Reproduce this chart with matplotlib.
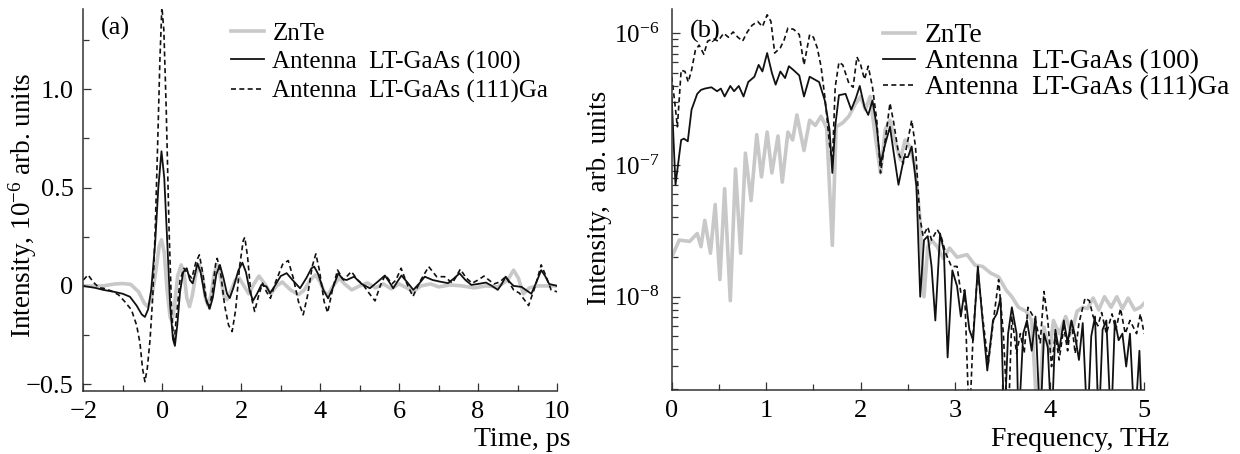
import numpy as np
import matplotlib
matplotlib.use("Agg")
import matplotlib.pyplot as plt
from matplotlib.ticker import MultipleLocator, LogLocator, NullFormatter

plt.rcParams['font.family'] = ['Liberation Serif', 'DejaVu Serif']
plt.rcParams['mathtext.fontset'] = 'custom'
plt.rcParams['mathtext.rm'] = 'Liberation Serif'
plt.rcParams['mathtext.it'] = 'Liberation Serif:italic'

labels = ['ZnTe', 'Antenna  LT-GaAs (100)', 'Antenna  LT-GaAs (111)Ga']

# (a) time domain, 10^-6 arb. units
t_znte = [-2, -1.5, -1.2, -1.0, -0.8, -0.6, -0.45, -0.37, -0.28, -0.18, -0.08, -0.02, 0.05, 0.12, 0.2,
          0.25, 0.31, 0.39, 0.48, 0.56, 0.62, 0.69, 0.76, 0.85, 0.94, 1.02, 1.09, 1.16, 1.24, 1.32,
          1.40, 1.48, 1.56, 1.64, 1.75, 1.85, 1.95, 2.07, 2.19, 2.32, 2.45, 2.6, 2.75, 2.9, 3.04,
          3.25, 3.45, 3.6, 3.75, 3.88, 4.0, 4.1, 4.2, 4.33, 4.48, 4.62, 4.8, 5.0, 5.2, 5.4, 5.6, 5.8,
          6.0, 6.2, 6.36, 6.55, 6.8, 7.0, 7.3, 7.6, 7.9, 8.2, 8.5, 8.75, 8.9, 9.02, 9.15, 9.3, 9.5, 10]
v_znte = [0, 0, 0.01, 0.012, 0.008, -0.03, -0.09, -0.105, -0.07, 0.05, 0.2, 0.235, 0.17, -0.02, -0.16,
          -0.18, -0.1, 0.05, 0.107, 0.05, -0.06, -0.105, -0.05, 0.06, 0.107, 0.05, -0.06, -0.1, -0.04, 0.07,
          0.107, 0.04, -0.05, -0.07, -0.02, 0.03, 0.04, 0.0, -0.04, 0.01, 0.05, 0.01, -0.04, 0.0, 0.02,
          -0.02, -0.045, -0.02, 0.03, 0.056, 0.02, -0.03, -0.045, 0.0, 0.04, 0.01, -0.02, 0.0, 0.015, -0.01, 0.01, -0.015,
          0.01, -0.01, -0.03, 0.0, 0.01, -0.005, 0.005, 0.0, -0.01, 0.0, -0.005, 0.03, 0.08, 0.04, -0.04, -0.01, 0.0, 0.0]

t_100 = [-2, -1.7, -1.5, -1.22, -1.0, -0.82, -0.65, -0.52, -0.44, -0.36, -0.28, -0.18, -0.1, -0.02, 0.05,
         0.12, 0.2, 0.27, 0.32, 0.38, 0.45, 0.53, 0.62, 0.7, 0.77, 0.83, 0.89, 0.97, 1.08, 1.2, 1.28,
         1.37, 1.46, 1.55, 1.64, 1.71, 1.8, 1.93, 2.03, 2.12, 2.22, 2.3, 2.4, 2.51, 2.64, 2.73, 2.85,
         3.0, 3.15, 3.3, 3.49, 3.65, 3.78, 3.85, 3.95, 4.08, 4.2, 4.3, 4.46, 4.57, 4.67, 4.86, 5.05,
         5.26, 5.45, 5.64, 5.75, 5.85, 5.95, 6.06, 6.2, 6.36, 6.5, 6.65, 6.85, 7.03, 7.24, 7.4, 7.53,
         7.68, 7.83, 8.0, 8.2, 8.35, 8.5, 8.6, 8.7, 8.8, 8.9, 9.1, 9.35, 9.48, 9.6, 9.7, 9.8, 10]
v_100 = [0, -0.01, -0.02, -0.03, -0.04, -0.055, -0.1, -0.145, -0.158, -0.12, -0.02, 0.22, 0.5, 0.685, 0.55,
         0.25, -0.1, -0.27, -0.305, -0.2, -0.03, 0.07, 0.09, 0.03, 0.013, 0.06, 0.115, 0.07, -0.05, -0.117, -0.06,
         0.06, 0.107, 0.04, -0.04, -0.062, -0.01, 0.08, 0.118, 0.07, -0.03, -0.075, -0.04, 0.005, -0.003, -0.037, 0.0,
         0.05, 0.065, 0.03, -0.012, 0.04, 0.09, 0.098, 0.06, -0.02, -0.063, -0.02, 0.064, 0.035, 0.03, 0.047, 0.01,
         -0.012, 0.02, 0.053, 0.02, -0.012, 0.02, 0.053, 0.02, -0.02, 0.01, 0.047, 0.03, 0.022, 0.014, 0.04, 0.064,
         0.03, 0.005, 0.01, 0.017, 0.0, -0.02, 0.01, 0.047, 0.02, 0.0, -0.005, -0.04, 0.02, 0.08, 0.05, 0.01, 0.0]

t_111 = [-2, -1.88, -1.75, -1.6, -1.49, -1.3, -1.11, -0.95, -0.78, -0.65, -0.565, -0.5, -0.44, -0.38, -0.31,
         -0.24, -0.18, -0.12, -0.06, -0.01, 0.04, 0.1, 0.17, 0.24, 0.3, 0.36, 0.45, 0.55, 0.65, 0.75,
         0.85, 0.94, 1.03, 1.12, 1.19, 1.27, 1.35, 1.39, 1.47, 1.58, 1.68, 1.77, 1.86, 1.96, 2.05, 2.09,
         2.16, 2.25, 2.34, 2.44, 2.54, 2.64, 2.74, 2.87, 3.05, 3.19, 3.32, 3.45, 3.57, 3.68, 3.8, 3.89,
         3.98, 4.1, 4.19, 4.3, 4.44, 4.59, 4.79, 4.95, 5.09, 5.25, 5.39, 5.52, 5.65, 5.82, 5.92, 6.05,
         6.2, 6.35, 6.55, 6.75, 6.95, 7.15, 7.35, 7.55, 7.7, 7.85, 8.0, 8.15, 8.4, 8.55, 8.7, 8.9, 9.05,
         9.28, 9.45, 9.6, 9.72, 9.85, 10]
v_111 = [0.03, 0.056, 0.02, -0.01, -0.012, -0.025, -0.045, -0.08, -0.122, -0.2, -0.29, -0.42, -0.487, -0.42, -0.275,
         -0.05, 0.28, 0.7, 1.15, 1.42, 1.3, 0.9, 0.3, -0.15, -0.29, -0.15, 0.03, 0.09, 0.06, 0.04,
         0.12, 0.158, 0.06, -0.08, -0.114, -0.03, 0.11, 0.14, 0.08, -0.1, -0.2, -0.232, -0.12, 0.1, 0.23, 0.247,
         0.15, -0.05, -0.13, -0.05, 0.014, -0.03, -0.063, 0.02, 0.11, 0.129, 0.04, -0.08, -0.147, -0.05, 0.1, 0.163,
         0.08, -0.08, -0.136, -0.03, 0.081, 0.03, 0.073, 0.03, 0.005, -0.04, -0.076, 0.0, 0.056, 0.01, 0.03, 0.09,
         0.01, -0.054, 0.03, 0.098, 0.047, 0.047, 0.014, 0.085, 0.04, 0.014, 0.03, 0.05, 0.01, 0.02, 0.047, -0.02, -0.037,
         -0.1, 0.0, 0.107, 0.05, -0.02, -0.03]

# (b) spectra, log10 of intensity (arb. units)
f_znte = [0, 0.08, 0.19, 0.27, 0.31, 0.35, 0.41, 0.46, 0.51, 0.56, 0.62, 0.675, 0.73, 0.78, 0.84, 0.9,
          0.95, 1.01, 1.06, 1.125, 1.17, 1.23, 1.28, 1.325, 1.40, 1.46, 1.52, 1.58, 1.64, 1.70, 1.74,
          1.81, 1.875, 1.94, 2.0, 2.05, 2.10, 2.16, 2.21, 2.26, 2.31, 2.36, 2.42, 2.47, 2.52, 2.575,
          2.625, 2.67, 2.71, 2.75, 2.81, 2.875, 2.94, 3.02, 3.125, 3.21, 3.29, 3.375, 3.46, 3.54, 3.6,
          3.67, 3.75, 3.81, 3.875, 3.94, 4.0, 4.04, 4.1, 4.17, 4.23, 4.29, 4.35, 4.40, 4.46, 4.52, 4.58,
          4.65, 4.71, 4.77, 4.83, 4.9, 4.96, 5.0]
lg_znte = [-7.70, -7.57, -7.58, -7.52, -7.62, -7.42, -7.67, -7.30, -7.87, -7.18, -8.03, -7.03, -7.67, -6.91, -7.27, -6.77,
           -7.09, -6.75, -7.06, -6.78, -7.13, -6.75, -6.81, -6.62, -6.89, -6.66, -6.70, -6.63, -6.72, -7.61, -6.71,
           -6.68, -6.63, -6.54, -6.48, -6.58, -6.48, -6.81, -7.06, -6.73, -6.66, -6.81, -6.96, -6.81, -6.86, -7.01,
           -7.39, -8.0, -7.62, -7.57, -7.62, -7.71, -7.63, -7.70, -7.68, -7.76, -7.77, -7.82, -7.85, -7.95, -8.0,
           -8.08, -8.11, -8.18, -9.0, -8.23, -8.43, -8.18, -8.28, -8.15, -8.28, -8.11, -8.08, -8.09, -8.01, -8.10, -8.0,
           -8.08, -8.0, -8.09, -8.01, -8.10, -8.08, -8.05]

f_100 = [0, 0.04, 0.1, 0.13, 0.17, 0.21, 0.27, 0.31, 0.35, 0.42, 0.48, 0.52, 0.56, 0.62, 0.66, 0.71, 0.76,
         0.81, 0.875, 0.92, 0.96, 1.01, 1.06, 1.10, 1.15, 1.2, 1.24, 1.29, 1.35, 1.40, 1.46, 1.51, 1.56,
         1.62, 1.67, 1.70, 1.73, 1.77, 1.84, 1.90, 1.95, 1.99, 2.04, 2.08, 2.125, 2.17, 2.21, 2.26, 2.31,
         2.35, 2.40, 2.46, 2.50, 2.54, 2.59, 2.63, 2.67, 2.71, 2.75, 2.79, 2.84, 2.88, 2.92, 2.97, 3.02,
         3.06, 3.10, 3.15, 3.19, 3.24, 3.29, 3.34, 3.40, 3.44, 3.48, 3.52, 3.56, 3.6, 3.65, 3.67, 3.72,
         3.76, 3.81, 3.85, 3.9, 3.94, 3.98, 4.02, 4.06, 4.1, 4.15, 4.19, 4.23, 4.27, 4.31, 4.35, 4.4, 4.44,
         4.48, 4.52, 4.56, 4.6, 4.65, 4.69, 4.73, 4.77, 4.81, 4.85, 4.9, 4.95, 4.98, 5.0]
lg_100 = [-6.49, -7.15, -6.81, -6.80, -6.82, -6.58, -6.46, -6.43, -6.42, -6.41, -6.44, -6.42, -6.48, -6.40, -6.44, -6.40, -6.48,
          -6.37, -6.33, -6.24, -6.29, -6.15, -6.30, -6.39, -6.29, -6.34, -6.25, -6.28, -6.32, -6.48, -6.33, -6.35, -6.37,
          -6.51, -6.73, -7.06, -6.71, -6.47, -6.46, -6.58, -6.49, -6.40, -6.56, -6.62, -6.51, -6.71, -6.99, -6.84, -6.71,
          -6.91, -7.15, -6.94, -6.94, -6.86, -7.16, -8.0, -7.57, -7.54, -7.77, -8.18, -7.52, -7.65, -8.46, -7.80, -7.92,
          -8.15, -7.95, -8.25, -8.33, -7.77, -8.18, -8.56, -8.18, -8.13, -8.01, -9.0, -8.28, -8.08, -8.28, -9.0, -8.28,
          -8.18, -8.41, -8.15, -9.0, -8.28, -8.38, -9.0, -8.25, -8.41, -8.18, -8.35, -8.18, -8.30, -8.48, -8.20, -9.0, -8.30,
          -8.15, -9.0, -8.25, -8.18, -9.0, -8.18, -8.33, -8.28, -8.53, -8.28, -9.0, -8.41, -9.0, -9.0]

f_111 = [0, 0.03, 0.06, 0.1, 0.14, 0.175, 0.21, 0.25, 0.29, 0.34, 0.38, 0.44, 0.49, 0.55, 0.6, 0.65, 0.70,
         0.75, 0.8, 0.85, 0.91, 0.96, 1.01, 1.05, 1.09, 1.15, 1.19, 1.23, 1.29, 1.35, 1.40, 1.46, 1.50,
         1.54, 1.58, 1.625, 1.67, 1.70, 1.73, 1.77, 1.81, 1.875, 1.92, 1.96, 2.0, 2.04, 2.08, 2.125, 2.17,
         2.21, 2.26, 2.31, 2.35, 2.40, 2.45, 2.5, 2.54, 2.58, 2.625, 2.66, 2.71, 2.75, 2.81, 2.85, 2.90,
         2.96, 3.02, 3.06, 3.1, 3.15, 3.19, 3.24, 3.29, 3.35, 3.41, 3.46, 3.51, 3.56, 3.6, 3.65, 3.69,
         3.73, 3.77, 3.81, 3.85, 3.9, 3.94, 3.98, 4.02, 4.06, 4.1, 4.15, 4.19, 4.23, 4.27, 4.31, 4.375,
         4.42, 4.46, 4.51, 4.55, 4.6, 4.66, 4.7, 4.75, 4.8, 4.85, 4.92, 4.96, 5.0]
lg_111 = [-6.33, -6.51, -6.71, -6.28, -6.29, -6.37, -6.28, -6.13, -6.09, -6.16, -6.06, -6.04, -6.06, -6.0, -6.03, -5.99, -6.03,
          -6.06, -5.99, -5.94, -5.91, -5.95, -5.86, -5.91, -6.15, -6.11, -6.05, -5.96, -5.97, -6.01, -6.24, -6.01, -6.03,
          -6.11, -6.25, -6.51, -6.84, -6.99, -6.41, -6.22, -6.24, -6.38, -6.41, -6.18, -6.24, -6.35, -6.25, -6.41, -6.66,
          -7.06, -6.81, -6.53, -6.68, -6.91, -6.99, -6.81, -6.66, -6.86, -7.39, -7.54, -7.47, -7.57, -7.49, -7.54, -7.67,
          -7.77, -7.77, -7.97, -7.95, -9.0, -8.28, -7.80, -8.15, -8.51, -8.15, -7.87, -8.28, -9.0, -8.15, -8.43, -8.28,
          -8.43, -8.08, -8.13, -8.18, -8.35, -7.96, -8.18, -8.53, -8.28, -8.48, -8.23, -8.41, -8.18, -8.43, -8.20, -8.01,
          -8.03, -8.15, -8.22, -8.12, -8.28, -8.13, -8.25, -8.09, -8.28, -8.18, -8.28, -8.13, -8.28]

fig = plt.figure(figsize=(12.4, 4.54), dpi=100)
ax1 = fig.add_axes([0.0672, 0.139, 0.382, 0.8405])
ax2 = fig.add_axes([0.5417, 0.141, 0.381, 0.8385])

grey = '#c8c8c8'
for ax in (ax1, ax2):
    for s in ('top', 'right'):
        ax.spines[s].set_visible(False)
    for s in ('left', 'bottom'):
        ax.spines[s].set_linewidth(1.1)
        ax.spines[s].set_color('#333333')
    ax.tick_params(which='both', direction='in', labelsize=19, color='#333333', width=0.9)
    ax.tick_params(which='major', length=6)
    ax.tick_params(which='minor', length=4)
    ax.tick_params(axis='x', pad=7)

ax1.plot(t_znte, v_znte, color=grey, lw=2.6, label=labels[0])
ax1.plot(t_100, v_100, color='#111111', lw=1.3, label=labels[1])
ax1.plot(t_111, v_111, color='#111111', lw=1.2, dashes=(3, 2), label=labels[2])
ax1.set_xlim(-2, 10)
ax1.set_ylim(-0.534, 1.407)
ax1.set_xticks([-2, 0, 2, 4, 6, 8, 10])
ax1.set_xticklabels(['\u22122', '0', '2', '4', '6', '8', '10'])
ax1.xaxis.set_minor_locator(MultipleLocator(1))
ax1.set_yticks([-0.5, 0, 0.5, 1.0])
ax1.set_yticklabels(['\u22120.5', '0', '0.5', '1.0'])
ax1.yaxis.set_minor_locator(MultipleLocator(0.25))
ax1.tick_params(axis='y', pad=7)

ax2.plot(f_znte, 10 ** np.array(lg_znte), color=grey, lw=2.6, label=labels[0])
ax2.plot(f_100, 10 ** np.array(lg_100), color='#111111', lw=1.3, label=labels[1])
ax2.plot(f_111, 10 ** np.array(lg_111), color='#111111', lw=1.2, dashes=(3, 2), label=labels[2])
ax2.set_yscale('log')
ax2.set_xlim(0, 5)
ax2.set_ylim(1.96e-9, 1.52e-6)
ax2.set_xticks([0, 1, 2, 3, 4, 5])
ax2.xaxis.set_minor_locator(MultipleLocator(0.5))
ax2.set_yticks([1e-8, 1e-7, 1e-6])
ax2.set_yticklabels(['10$^{\u22128}$', '10$^{\u22127}$', '10$^{\u22126}$'])
ax2.yaxis.set_minor_locator(LogLocator(base=10, subs=np.arange(2, 10)))
ax2.yaxis.set_minor_formatter(NullFormatter())
ax2.tick_params(axis='y', pad=9, labelsize=18)

for ax, xa, ya, fs, sp in ((ax1, 231, 22, 18, 0.24), (ax2, 883, 23, 19.8, 0.03)):
    ax.legend(loc='upper left', bbox_to_anchor=(xa / 1240, 1 - ya / 454), bbox_transform=fig.transFigure,
              frameon=False, fontsize=fs, handlelength=1.3 * 18 / fs, handletextpad=0.35, labelspacing=sp,
              borderpad=0, borderaxespad=0)

fig.text(115 / 1240, 1 - 28.5 / 454, '(a)', fontsize=19, ha='center', va='center')
fig.text(705 / 1240, 1 - 31.5 / 454, '(b)', fontsize=19, ha='center', va='center')

fig.text(23 / 1240, 1 - 205 / 454, 'Intensity, 10$^{\u22126}$ arb. units', fontsize=19.5,
         rotation=90, ha='center', va='center')
fig.text(600 / 1240, 1 - 198 / 454, 'Intensity,  arb. units', fontsize=19.5,
         rotation=90, ha='center', va='center')
fig.text(570 / 1240, 1 - 440 / 454, 'Time, ps', fontsize=20, ha='right', va='center')
fig.text(1169 / 1240, 1 - 440 / 454, 'Frequency, THz', fontsize=20, ha='right', va='center')

fig.savefig('out.png', dpi=100, facecolor='white')
